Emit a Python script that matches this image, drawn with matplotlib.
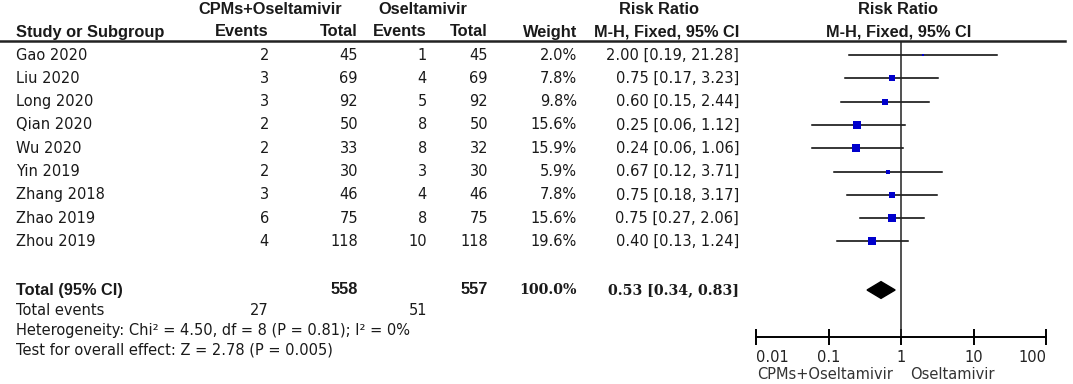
import matplotlib
matplotlib.use("Agg")
import numpy as np
import matplotlib.pyplot as plt
from matplotlib.transforms import blended_transform_factory

# data
studies = ["Gao 2020", "Liu 2020", "Long 2020", "Qian 2020", "Wu 2020",
           "Yin 2019", "Zhang 2018", "Zhao 2019", "Zhou 2019"]
ev_cpm = [2, 3, 3, 2, 2, 2, 3, 6, 4]
n_cpm = [45, 69, 92, 50, 33, 30, 46, 75, 118]
ev_ose = [1, 4, 5, 8, 8, 3, 4, 8, 10]
n_ose = [45, 69, 92, 50, 32, 30, 46, 75, 118]
weight = [2.0, 7.8, 9.8, 15.6, 15.9, 5.9, 7.8, 15.6, 19.6]
rr = [2.00, 0.75, 0.60, 0.25, 0.24, 0.67, 0.75, 0.75, 0.40]
rr_lo = [0.19, 0.17, 0.15, 0.06, 0.06, 0.12, 0.18, 0.27, 0.13]
rr_hi = [21.28, 3.23, 2.44, 1.12, 1.06, 3.71, 3.17, 2.06, 1.24]
total_rr, total_lo, total_hi = 0.53, 0.34, 0.83
xticks = [0.01, 0.1, 1, 10, 100]
xtick_labels = ["0.01", "0.1", "1", "10", "100"]

W, H = 1073, 384
plt.rcParams['font.family'] = ['DejaVu Sans']
fs = 10.5
fs_bold = 11.8
bold_family = ["Liberation Sans", "DejaVu Sans"]

fig = plt.figure(figsize=(W / 100, H / 100), dpi=100)
# forest axes: 0.01 at px 756, 100 at px 1046; rows 23.3 px apart starting at px 55
row_h = 23.3
y0 = 55
ax = fig.add_axes([756 / W, 0, (1046 - 756) / W, 1])
ax.set_xscale("log")
ax.set_xlim(0.01, 100)
ax.set_ylim((H - y0) / row_h, -y0 / row_h)

def row(px):
    return (px - y0) / row_h

tr = blended_transform_factory(fig.transFigure, ax.transData)

def put(xpx, ypx, s, ha="right", bold=False, **kw):
    kw.setdefault("fontsize", fs_bold if bold else fs)
    kw.setdefault("color", "#1a1a1a")
    if bold:
        kw.setdefault("family", bold_family)
    ax.text(xpx / W, row(ypx), s, transform=tr, ha=ha, va="center",
            fontweight="bold" if bold else "normal", clip_on=False, **kw)

# headers
put(270, 10, "CPMs+Oseltamivir", ha="center", bold=True)
put(423, 10, "Oseltamivir", ha="center", bold=True)
put(659, 10, "Risk Ratio", ha="center", bold=True)
put(898, 10, "Risk Ratio", ha="center", bold=True)
put(16, 32, "Study or Subgroup", ha="left", bold=True)
put(269, 32, "Events", bold=True)
put(358, 32, "Total", bold=True)
put(427, 32, "Events", bold=True)
put(488, 32, "Total", bold=True)
put(577, 32, "Weight", bold=True)
put(739, 32, "M-H, Fixed, 95% CI", bold=True)
put(899, 32, "M-H, Fixed, 95% CI", ha="center", bold=True)
ax.plot([0, 1065 / W], [row(40.5)] * 2, color="#222222", lw=1.8, transform=tr, clip_on=False)

# study rows
for i, name in enumerate(studies):
    ypx = y0 + i * row_h
    put(16, ypx, name, ha="left")
    put(269, ypx, str(ev_cpm[i]))
    put(358, ypx, str(n_cpm[i]))
    put(427, ypx, str(ev_ose[i]))
    put(488, ypx, str(n_ose[i]))
    put(577, ypx, f"{weight[i]:.1f}%")
    put(739, ypx, f"{rr[i]:.2f} [{rr_lo[i]:.2f}, {rr_hi[i]:.2f}]")
    ax.plot([rr_lo[i], rr_hi[i]], [i, i], color="black", lw=1.1, zorder=2)
    ax.plot(rr[i], i, marker="s", color="#0000cc", markersize=1.3 * np.sqrt(weight[i]),
            markeredgewidth=0, zorder=3)

# total
ty = 290
put(16, ty, "Total (95% CI)", ha="left", bold=True)
put(358, ty, str(sum(n_cpm)), bold=True)
put(488, ty, str(sum(n_ose)), bold=True)
put(577, ty, f"{sum(weight):.1f}%", bold=True, family="DejaVu Serif", fontsize=10.2)
put(739, ty, f"{total_rr:.2f} [{total_lo:.2f}, {total_hi:.2f}]", bold=True,
    family="DejaVu Serif", fontsize=10.2)
tr_row = row(ty)
ax.fill([total_lo, total_rr, total_hi, total_rr],
        [tr_row, tr_row - 0.36, tr_row, tr_row + 0.36], color="black", zorder=3)

put(16, 310, "Total events", ha="left")
put(269, 310, str(sum(ev_cpm)))
put(427, 310, str(sum(ev_ose)))
put(16, 330, "Heterogeneity: Chi\u00b2 = 4.50, df = 8 (P = 0.81); I\u00b2 = 0%", ha="left")
put(16, 350, "Test for overall effect: Z = 2.78 (P = 0.005)", ha="left")

# null line and axis
ax.vlines(1, row(40.5), row(337), color="#222222", lw=1.1)
for s in ["top", "right", "left"]:
    ax.spines[s].set_visible(False)
ax.spines["bottom"].set_position(("data", row(337)))
ax.spines["bottom"].set_linewidth(1.4)
ax.set_yticks([])
ax.set_xticks(xticks)
ax.set_xticklabels(xtick_labels, fontsize=fs, color="#222222")
ax.minorticks_off()
ax.tick_params(axis="x", direction="inout", length=12, width=1.4, pad=3)
labels = ax.get_xticklabels()
labels[0].set_ha("left")
labels[-1].set_ha("right")
put(893, 374, "CPMs+Oseltamivir", ha="right", color="#333333")
put(910, 374, "Oseltamivir", ha="left", color="#333333")

fig.savefig("out.png", dpi=100)
